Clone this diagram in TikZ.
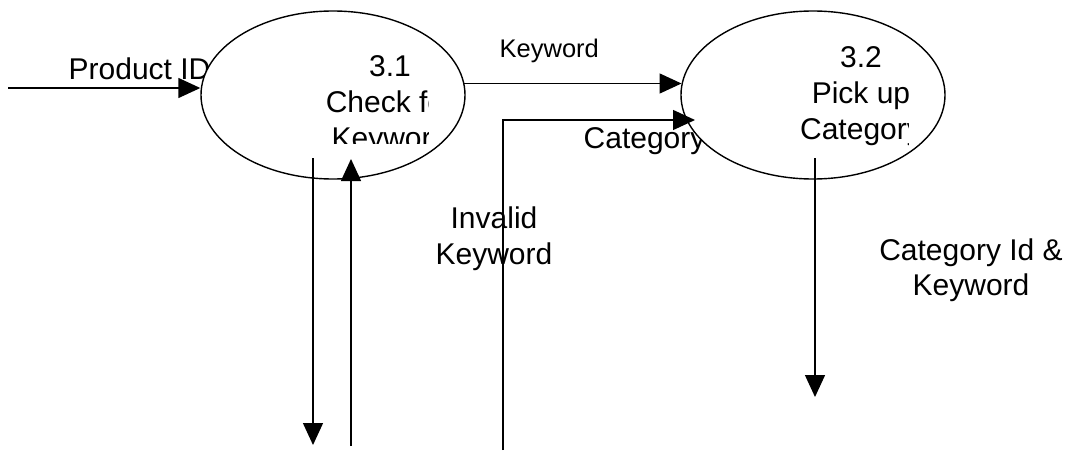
\documentclass[tikz,border=0pt]{standalone}
\usepackage{fontspec}
\setmainfont{Liberation Sans}
\usetikzlibrary{shapes}
\usetikzlibrary{arrows.meta}
\tikzset{
	flowtext/.style = {inner sep=0pt, align=center,
		font=\fontsize{30}{36}\selectfont},
	dfd_p/.style = {ellipse, draw=black, fill=white, line width=1.4pt,
		minimum width=264pt, minimum height=168pt, inner sep=0pt},% process bubble
	dfd_l/.style = {flowtext, anchor=base},% flow label, base = last line
	dfd_s/.style = {dfd_l, font=\fontsize{25.5}{30}\selectfont}% small flow label
}

\begin{document}
\begin{tikzpicture}[->,>={Triangle[length=22pt,width=20pt]},line width=1.4pt,
		x=1pt,y=-1pt]
		\useasboundingbox (0,0) rectangle (1076,450);
		% labels hidden in part by the bubbles
		\node [dfd_l,anchor=base west] (l_pid) at (68,79) {Product ID};
		\node [dfd_l,anchor=base west] (l_cat) at (583,148) {Category};
		\node [dfd_p] (p31) at (333,95) {};
		\node [dfd_p] (p32) at (813,95) {};
		\begin{scope}
			\clip (300,30) rectangle (428,143);
			\node [dfd_l] (t31) at (390,148) {3.1\\Check for\\Keyword};
		\end{scope}
		\begin{scope}
			\clip (770,30) rectangle (908,150);
			\node [dfd_l] (t32) at (861,139) {3.2\\Pick up\\Category};
		\end{scope}
		% free ends
		\coordinate (src) at (8,88);
		\coordinate (cat_in) at (503,450);
		\coordinate (cat_tip) at (695,120);
		\coordinate (kw_top) at (313,158);
		\coordinate (kw_end) at (313,445);
		\coordinate (inv_end) at (351,446);
		\coordinate (inv_tip) at (351,159);
		\coordinate (cid_top) at (815,158);
		\coordinate (cid_end) at (815,397);
		% flows
		\draw (src) -- (src -| p31.west);
		\draw (p31.5) -- (p32.175);
		\draw (cat_in) |- (cat_tip);
		\draw (kw_top) -- (kw_end);
		\draw (inv_end) -- (inv_tip);
		\draw (cid_top) -- (cid_end);
		\node [dfd_s,anchor=base west] (l_kw) at (499,57) {Keyword};
		\node [dfd_l] (l_inv) at (494,264) {Invalid\\Keyword};
		\node [dfd_l,font=\fontsize{30}{35}\selectfont] (l_cid) at (971,295) {Category Id \&\\Keyword};
		;\end{tikzpicture}
\end{document}
